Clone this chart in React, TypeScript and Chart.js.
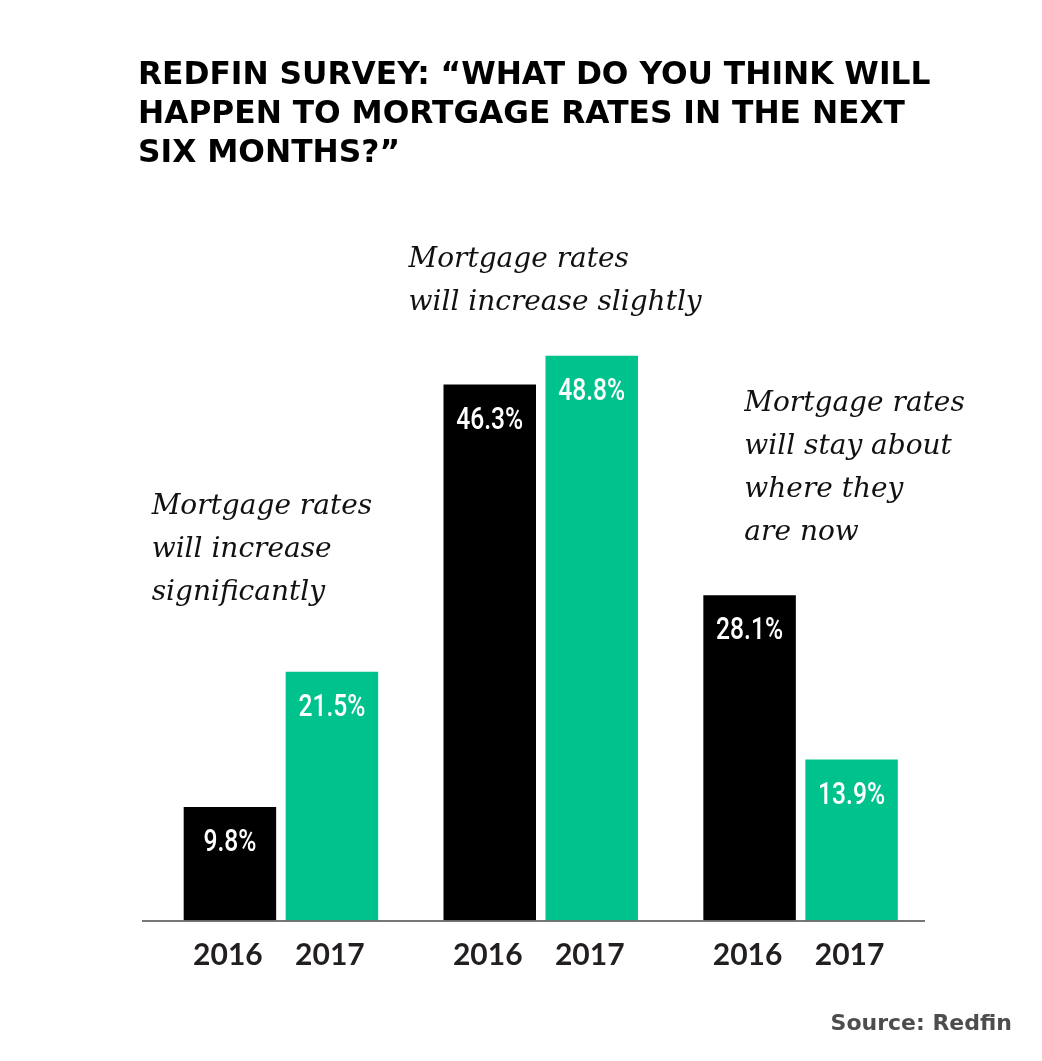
import React, { useEffect, useRef } from "react";
import { Chart, registerables } from "chart.js";

Chart.register(...registerables);

// ---------- data ----------
const titleLines = [
  "REDFIN SURVEY: \u201CWHAT DO YOU THINK WILL",
  "HAPPEN TO MORTGAGE RATES IN THE NEXT",
  "SIX MONTHS?\u201D",
];
const categories = [
  "Mortgage rates will increase significantly",
  "Mortgage rates will increase slightly",
  "Mortgage rates will stay about where they are now",
];
const annotationLines = [
  ["Mortgage rates", "will increase", "significantly"],
  ["Mortgage rates", "will increase slightly"],
  ["Mortgage rates", "will stay about", "where they", "are now"],
];
const seriesYears = ["2016", "2017"];
const values2016 = [9.8, 46.3, 28.1];
const values2017 = [21.5, 48.8, 13.9];
const sourceText = "Source: Redfin";

// ---------- styles ----------
const COLORS = ["#000000", "#00c28d"];
const ANNOT_STYLE = [
  { dx: -32, gap: 72 },
  { dx: -35, gap: 46 },
  { dx: 41, gap: 55 },
];

const overlayPlugin = {
  id: "overlay",
  afterDatasetsDraw(chart: any) {
    const ctx = chart.ctx as CanvasRenderingContext2D;
    const area = chart.chartArea;
    const metas = [chart.getDatasetMeta(0), chart.getDatasetMeta(1)];

    ctx.save();
    // baseline
    ctx.strokeStyle = "#4a4a4a";
    ctx.lineWidth = 1.5;
    ctx.beginPath();
    ctx.moveTo(area.left - 9, area.bottom + 0.5);
    ctx.lineTo(area.right - 5.5, area.bottom + 0.5);
    ctx.stroke();

    // value labels and year labels
    metas.forEach((meta: any, di: number) => {
      const values = di === 0 ? values2016 : values2017;
      meta.data.forEach((bar: any, i: number) => {
        const txt = values[i].toFixed(1) + "%";
        ctx.save();
        ctx.fillStyle = "#ffffff";
        ctx.font = "500 32px Roboto";
        ctx.textAlign = "center";
        ctx.textBaseline = "alphabetic";
        ctx.translate(bar.x, bar.y + 44);
        ctx.scale(0.77, 1);
        ctx.fillText(txt, 0, 0);
        ctx.restore();

        ctx.fillStyle = "#231f20";
        ctx.font = "bold 30px Lato";
        ctx.textAlign = "center";
        ctx.textBaseline = "alphabetic";
        ctx.fillText(seriesYears[di], bar.x - 2, area.bottom + 44.5);
      });
    });

    // annotations
    annotationLines.forEach((lines, i) => {
      const b0 = metas[0].data[i] as any;
      const b1 = metas[1].data[i] as any;
      const top = Math.min(b0.y, b1.y);
      const left = b0.x - b0.width / 2 + ANNOT_STYLE[i].dx;
      const lh = 43;
      ctx.fillStyle = "#111111";
      ctx.font = "italic 28px 'DejaVu Serif'";
      ctx.textAlign = "left";
      ctx.textBaseline = "alphabetic";
      const lastBase = top - ANNOT_STYLE[i].gap;
      lines.forEach((ln, k) => {
        ctx.fillText(ln, left, lastBase - (lines.length - 1 - k) * lh);
      });
    });

    // title
    ctx.fillStyle = "#000000";
    ctx.font = "bold 31.3px 'DejaVu Sans'";
    ctx.textAlign = "left";
    ctx.textBaseline = "alphabetic";
    titleLines.forEach((ln, k) => {
      ctx.fillText(ln, 138, 84 + k * 39);
    });

    // source
    ctx.fillStyle = "#4d4d4d";
    ctx.font = "bold 22px 'DejaVu Sans'";
    ctx.textAlign = "right";
    ctx.fillText(sourceText, 1012, 1030);
    ctx.restore();
  },
};

export default function App() {
  const ref = useRef<HTMLCanvasElement | null>(null);
  useEffect(() => {
    document.body.style.margin = "0";
    document.body.style.background = "#ffffff";
    const canvas = ref.current!;
    const chart = new Chart(canvas, {
      type: "bar",
      data: {
        labels: categories,
        datasets: [
          {
            label: seriesYears[0],
            data: values2016,
            backgroundColor: COLORS[0],
            categoryPercentage: 0.785,
            barPercentage: 0.907,
          },
          {
            label: seriesYears[1],
            data: values2017,
            backgroundColor: COLORS[1],
            categoryPercentage: 0.785,
            barPercentage: 0.907,
          },
        ],
      },
      options: {
        responsive: false,
        maintainAspectRatio: false,
        animation: false,
        layout: { padding: { left: 151, right: 111.5, top: 226, bottom: 140.5 } },
        scales: {
          x: { display: false },
          y: { display: false, min: 0, max: 60 },
        },
        plugins: {
          legend: { display: false },
          tooltip: { enabled: false },
          title: { display: false },
        },
      },
      plugins: [overlayPlugin],
    });
    return () => chart.destroy();
  }, []);
  return (
    <div style={{ width: 1042, height: 1061, background: "#fff" }}>
      <canvas ref={ref} width={1042} height={1061} style={{ display: "block", width: 1042, height: 1061 }} />
    </div>
  );
}
